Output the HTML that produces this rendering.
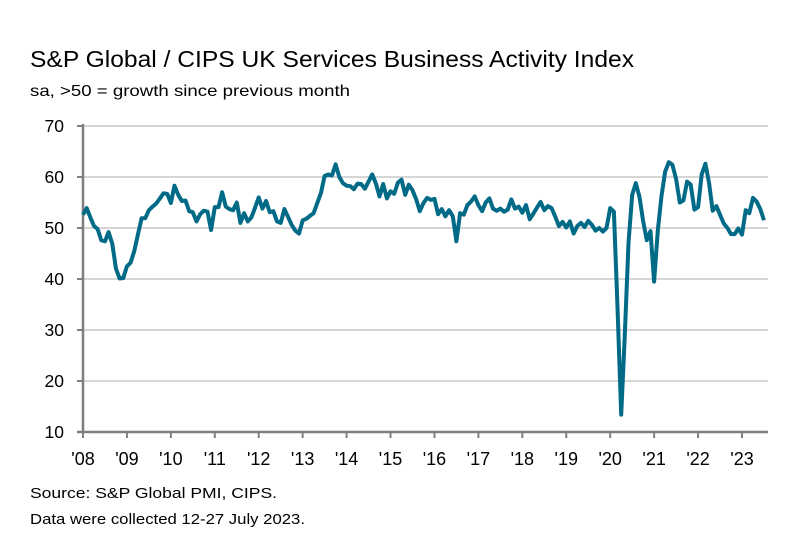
<!DOCTYPE html>
<html><head><meta charset="utf-8">
<style>
body{margin:0;background:#fff;width:810px;height:548px;overflow:hidden;font-family:"Liberation Sans",sans-serif;color:#000}
svg text{font-family:"Liberation Sans",sans-serif}
</style></head>
<body>
<svg width="810" height="548">
<text x="30" y="67" font-size="23" textLength="604" lengthAdjust="spacingAndGlyphs">S&amp;P Global / CIPS UK Services Business Activity Index</text>
<text x="30" y="96" font-size="16" textLength="320" lengthAdjust="spacingAndGlyphs">sa, &gt;50 = growth since previous month</text>
<g id="grid"></g>
<g id="axes"></g>
<path id="line" fill="none" stroke="#006a87" stroke-width="4" stroke-linejoin="round"/>
<text x="30" y="498" font-size="15" textLength="247" lengthAdjust="spacingAndGlyphs">Source: S&amp;P Global PMI, CIPS.</text>
<text x="30" y="524" font-size="15" textLength="275" lengthAdjust="spacingAndGlyphs">Data were collected 12-27 July 2023.</text>
</svg>
<script>
const yTicks=[10,20,30,40,50,60,70];
const xLabels=["'08","'09","'10","'11","'12","'13","'14","'15","'16","'17","'18","'19","'20","'21","'22","'23"];
const values=[
52.6,53.9,52.1,50.4,49.8,47.6,47.4,49.2,46.9,42.1,40.1,40.2,
42.5,43.2,45.5,48.7,51.9,51.9,53.5,54.2,54.8,55.8,56.8,56.7,
54.9,58.3,56.5,55.3,55.4,53.3,53.1,51.3,52.7,53.4,53.2,49.6,
54.1,54.1,57.0,54.2,53.7,53.5,55.0,51.0,52.9,51.3,52.1,54.0,
56.0,53.8,55.3,53.1,53.3,51.3,51.0,53.7,52.2,50.6,49.5,48.9,
51.5,51.8,52.4,52.9,54.9,56.9,60.2,60.5,60.3,62.5,60.0,58.8,
58.3,58.2,57.6,58.7,58.6,57.7,59.1,60.5,58.7,56.2,58.6,55.8,
57.2,56.7,58.9,59.5,56.5,58.5,57.4,55.6,53.3,54.9,55.9,55.5,
55.7,52.7,53.7,52.3,53.5,52.3,47.4,52.9,52.6,54.5,55.2,56.2,
54.5,53.3,55.0,55.8,53.8,53.4,53.8,53.2,53.6,55.6,53.8,54.2,
53.0,54.5,51.7,52.8,54.0,55.1,53.5,54.3,53.9,52.2,50.4,51.2,
50.1,51.3,48.9,50.4,51.0,50.2,51.4,50.6,49.5,50.0,49.3,50.0,
53.9,53.2,34.5,13.4,29.0,47.1,56.5,58.8,56.1,51.4,47.6,49.4,
39.5,49.5,56.3,61.0,62.9,62.4,59.6,55.0,55.4,59.1,58.5,53.6,
54.1,60.5,62.6,58.9,53.4,54.3,52.6,50.9,50.0,48.8,48.8,49.9,
48.7,53.5,52.9,55.9,55.2,53.7,51.5];
const X0=83,YW=(742-83)/15,PR=768;
const xs=i=>X0+i/12*YW;
const ys=v=>432-(v-10)*(432-126)/60;
const NS='http://www.w3.org/2000/svg';
const grid=document.getElementById('grid'),axes=document.getElementById('axes');
function mk(tag,at,parent){const e=document.createElementNS(NS,tag);for(const k in at)e.setAttribute(k,at[k]);parent.appendChild(e);return e;}
yTicks.forEach(t=>{
  if(t>10){const g=mk('line',{x1:X0,x2:PR,y1:ys(t),y2:ys(t),stroke:'#d6d6d6','stroke-width':2},grid);
  
  }
  const tk=mk('line',{x1:X0-6,x2:X0,y1:ys(t),y2:ys(t),stroke:'#7f7f7f','stroke-width':2},axes);
  
  
  const tx=mk('text',{x:X0-19,y:ys(t)+6,'font-size':17.5,'text-anchor':'end'},axes);tx.textContent=t;
  
  
});
const ya=mk('line',{x1:X0,x2:X0,y1:124,y2:433,stroke:'#7f7f7f','stroke-width':2.5},axes);


const xa=mk('line',{x1:X0-6,x2:PR,y1:432,y2:432,stroke:'#7f7f7f','stroke-width':2.5},axes);


xLabels.forEach((l,i)=>{
  const x=X0+i*YW;
  const tk=mk('line',{x1:x,x2:x,y1:432,y2:438,stroke:'#7f7f7f','stroke-width':2},axes);
  
  
  const tx=mk('text',{x:x,y:465,'font-size':18,'text-anchor':'middle'},axes);tx.textContent=l;
  
  
});
document.getElementById('line').setAttribute('d',values.map((v,i)=>(i?'L':'M')+xs(i).toFixed(1)+','+ys(v).toFixed(1)).join(''));
</script>
</body></html>
